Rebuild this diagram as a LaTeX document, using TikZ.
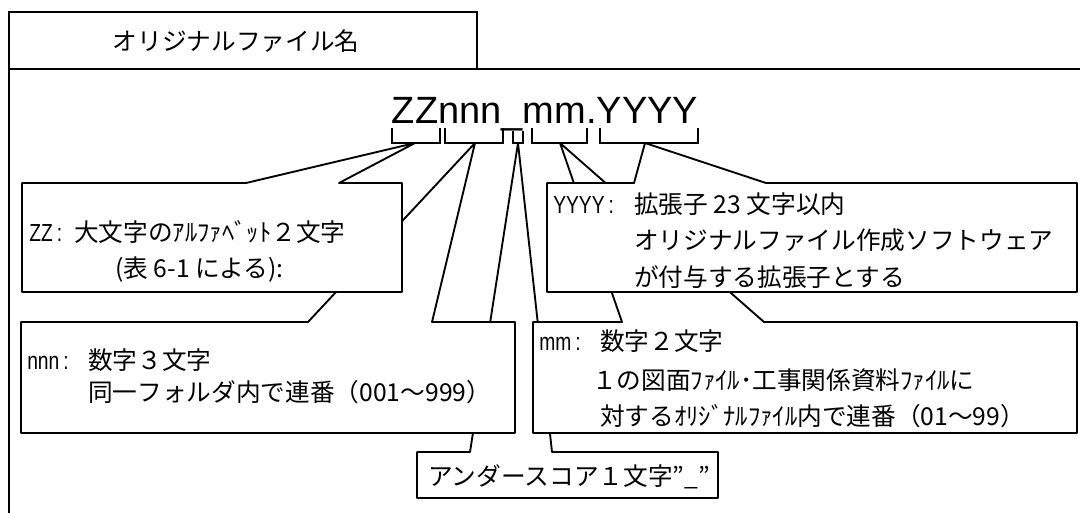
\documentclass[tikz,border=0pt]{standalone}
\usepackage{fontspec}
\setmainfont{Liberation Sans}
\newfontfamily\jpfont{Noto Sans CJK JP}
\newfontfamily\tagfont[FakeStretch=0.78]{Liberation Sans}
\usepackage{tikz}
\usetikzlibrary{positioning}

\tikzset{
	frame/.style={draw, line width=2.2pt},
	bracket/.style={draw, line width=2.2pt},
	callout/.style={draw, fill=white, line width=1.4pt, line join=round},
	jtext/.style={anchor=base west, inner sep=0pt, font=\jpfont\fontsize{18.5}{20}\selectfont},
	tag/.style={anchor=base west, inner sep=0pt, font=\tagfont\fontsize{18.5}{20}\selectfont},
}

\begin{document}
\begin{tikzpicture}[x=0.75pt,y=-0.75pt]
	\useasboundingbox (0,0) rectangle (1080,512);
	
	% frame and title
	\draw[frame] (9,515) -- (9,12) -- (477,12) -- (477,69);
	\draw[frame] (9,69) -- (1085,69);
	\node[jtext, anchor=base] (title) at (236,50) {オリジナルファイル名};
	
	% file name with its brackets
	\node[font=\fontsize{28.5}{30}\selectfont, anchor=base, inner sep=0pt] (fname) at (545,123) {ZZnnn\_mm.YYYY};
	\draw[bracket] (392,128) |- (440,143) -- (440,128);
	\draw[bracket] (445,128) |- (503,143) -- (503,128);
	\draw[bracket] (513,131) |- (523,143) -- (523,131);
	\draw[bracket] (532,128) |- (587,143) -- (587,128);
	\draw[bracket] (600,128) |- (698,143) -- (698,128);
	
	\coordinate (zzTip) at (415,143);
	\coordinate (nTip) at (475,143);
	\coordinate (uTip) at (518,143);
	\coordinate (mTip) at (560,143);
	\coordinate (yTip) at (645,143);
	
	% callouts, back to front
	\draw[callout] (417,452) -- (470,452) -- (uTip) -- (552,452) -- (718,452) -- (718,498) -- (417,498) -- cycle;
	\draw[callout] (21,322) -- (308,322) -- (nTip) -- (432,322) -- (515,322) -- (515,433) -- (21,433) -- cycle;
	\draw[callout] (533,322) -- (622,322) -- (mTip) -- (764,322) -- (1077,322) -- (1077,433) -- (533,433) -- cycle;
	\draw[callout] (22,183) -- (246,183) -- (zzTip) -- (339,183) -- (402,183) -- (402,292) -- (22,292) -- cycle;
	\draw[callout] (547,183) -- (634,183) -- (yTip) -- (766,183) -- (1077,183) -- (1077,292) -- (547,292) -- cycle;
	
	% texts
	\node[tag] (zzTag) at (29,241) {ZZ\,:};
	\node[jtext] (zz1) at (74,241) {大文字のｱﾙﾌｧﾍﾞｯﾄ２文字};
	\node[jtext] (zz2) at (115,277) {(表 6-1 による):};
	
	\node[tag] (nTag) at (27,369) {nnn\,:};
	\node[jtext] (n1) at (88,369) {数字３文字};
	\node[jtext] (n2) at (88,401) {同一フォルダ内で連番（001～999）};
	
	\node[tag] (yTag) at (553,213) {YYYY\,:};
	\node[jtext] (y1) at (634,213) {拡張子 23 文字以内};
	\node[jtext] (y2) at (634,249) {オリジナルファイル作成ソフトウェア};
	\node[jtext] (y3) at (634,286) {が付与する拡張子とする};
	
	\node[tag] (mTag) at (539,350) {mm\,:};
	\node[jtext] (m1) at (600,350) {数字２文字};
	\node[jtext] (m2) at (592,389) {１の図面ﾌｧｲﾙ･工事関係資料ﾌｧｲﾙに};
	\node[jtext] (m3) at (600,425) {対するｵﾘｼﾞﾅﾙﾌｧｲﾙ内で連番（01～99）};
	
	\node[jtext] (u1) at (428,485) {アンダースコア１文字”\_”};
	
\end{tikzpicture}
\end{document}
